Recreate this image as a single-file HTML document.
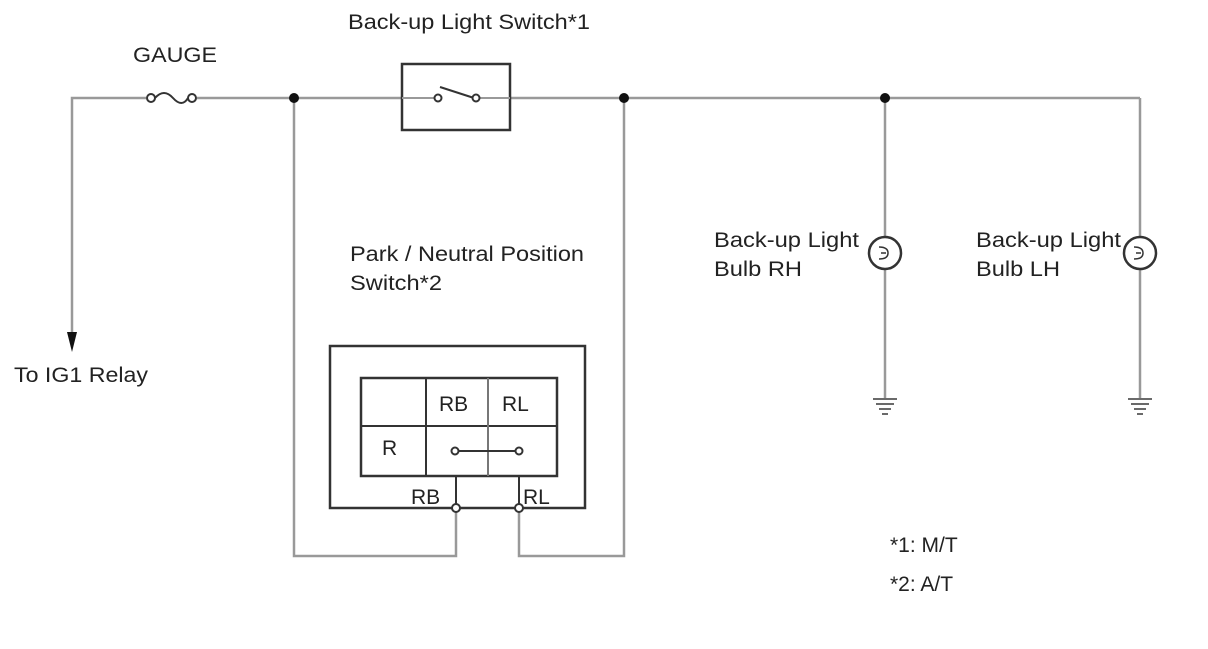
<!DOCTYPE html>
<html><head><style>body{margin:0;background:#fff}</style></head><body>
<svg width="1208" height="644" xmlns="http://www.w3.org/2000/svg" font-family="Liberation Sans, sans-serif" font-size="21" fill="#222">
<rect width="1208" height="644" fill="#fff"/>
<g stroke="#999" stroke-width="2.5" fill="none">
<polyline points="72,345 72,98 146,98"/>
<line x1="197" y1="98" x2="402" y2="98"/>
<line x1="510" y1="98" x2="1140" y2="98"/>
<line x1="1140" y1="98" x2="1140" y2="236"/>
<line x1="1140" y1="270" x2="1140" y2="398"/>
<line x1="885" y1="98" x2="885" y2="236"/>
<line x1="885" y1="270" x2="885" y2="398"/>
<polyline points="294,98 294,556 456,556 456,512"/>
<polyline points="624,98 624,556 519,556 519,512"/>
</g>
<polygon points="67,332 77,332 72,352" fill="#111"/>
<g stroke="#333" stroke-width="2" fill="#fff">
<circle cx="151" cy="98" r="4"/><circle cx="192" cy="98" r="4"/>
<path d="M155,98 q9,-10 18,0 t15,0" fill="none"/>
<rect x="402" y="64" width="108" height="66" stroke-width="2.5"/>
<line x1="402" y1="98" x2="434" y2="98" stroke="#999"/>
<line x1="479" y1="98" x2="510" y2="98" stroke="#999"/>
<line x1="440" y1="87" x2="474" y2="98"/>
<circle cx="438" cy="98" r="3.5"/><circle cx="476" cy="98" r="3.5"/>
<rect x="330" y="346" width="255" height="162" stroke-width="2.5"/>
<rect x="361" y="378" width="196" height="98" stroke-width="2.5"/>
<line x1="361" y1="426" x2="557" y2="426"/>
<line x1="426" y1="378" x2="426" y2="476"/>
<line x1="488" y1="378" x2="488" y2="476" stroke="#777"/>
<line x1="456" y1="476" x2="456" y2="508"/>
<line x1="519" y1="476" x2="519" y2="508"/>
<line x1="458" y1="451" x2="516" y2="451"/>
<circle cx="455" cy="451" r="3.5"/><circle cx="519" cy="451" r="3.5"/>
<circle cx="456" cy="508" r="4"/><circle cx="519" cy="508" r="4"/>
<circle cx="885" cy="253" r="16" stroke-width="2.5"/><circle cx="1140" cy="253" r="16" stroke-width="2.5"/>
<path d="M879,247 q9,0 9,6 q0,6 -9,6 M886,253 h-5" fill="none" stroke-width="1.5"/>
<path d="M1134,247 q9,0 9,6 q0,6 -9,6 M1141,253 h-5" fill="none" stroke-width="1.5"/>
<path d="M873,399 h24 M876,404 h18 M879,409 h12 M882,414 h6" stroke="#555" stroke-width="1.8"/>
<path d="M1128,399 h24 M1131,404 h18 M1134,409 h12 M1137,414 h6" stroke="#555" stroke-width="1.8"/>
</g>
<g fill="#111" stroke="none">
<circle cx="294" cy="98" r="5"/><circle cx="624" cy="98" r="5"/><circle cx="885" cy="98" r="5"/>
</g>
<g lengthAdjust="spacingAndGlyphs">
<text x="133" y="62" textLength="84" lengthAdjust="spacingAndGlyphs">GAUGE</text>
<text x="348" y="29" textLength="242" lengthAdjust="spacingAndGlyphs">Back-up Light Switch*1</text>
<text x="350" y="261" textLength="234" lengthAdjust="spacingAndGlyphs">Park / Neutral Position</text>
<text x="350" y="290" textLength="92" lengthAdjust="spacingAndGlyphs">Switch*2</text>
<text x="14" y="382" textLength="134" lengthAdjust="spacingAndGlyphs">To IG1 Relay</text>
<text x="714" y="247" textLength="145" lengthAdjust="spacingAndGlyphs">Back-up Light</text>
<text x="714" y="276" textLength="88" lengthAdjust="spacingAndGlyphs">Bulb RH</text>
<text x="976" y="247" textLength="145" lengthAdjust="spacingAndGlyphs">Back-up Light</text>
<text x="976" y="276" textLength="84" lengthAdjust="spacingAndGlyphs">Bulb LH</text>
</g>
<text x="439" y="411">RB</text>
<text x="502" y="411">RL</text>
<text x="382" y="455">R</text>
<text x="411" y="504">RB</text>
<text x="523" y="504">RL</text>
<text x="890" y="552">*1: M/T</text>
<text x="890" y="591">*2: A/T</text>
</svg>
</body></html>
